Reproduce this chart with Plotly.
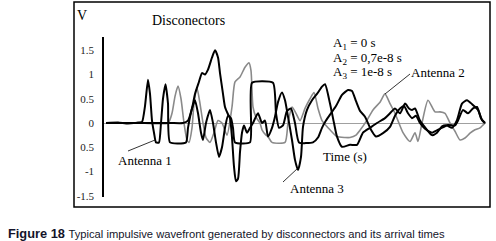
import plotly.graph_objects as go

# ---- data (time in ns, voltage in V) ----
t_ant1 = [0.0, 1.2, 2.2, 3.2, 3.6, 3.9, 4.2, 4.4, 4.6, 4.8,
          5.0, 5.3, 5.5, 5.7, 5.95, 6.2, 6.4, 8.0, 8.2, 8.6,
          8.9, 9.2, 9.5, 9.7, 10.0, 10.4, 10.7, 11.0, 11.3, 11.6,
          11.9, 12.2, 12.5, 12.7, 12.9, 14.4, 14.6, 16.7, 17.0, 17.3,
          17.7, 18.1, 18.5, 18.9, 19.3, 20.7, 21.2, 21.6, 22.0, 22.5,
          23.0, 23.6, 24.2, 24.6, 25.0, 25.4, 25.9, 26.5, 27.0, 27.7,
          28.4, 28.9, 29.4, 29.8, 30.2, 30.6, 31.0, 31.4, 31.9, 32.6,
          33.4, 34.2, 34.9, 35.2, 35.7, 36.2, 36.7, 37.1, 37.5, 37.9]
v_ant1 = [0.0, 0.01, -0.01, 0.01, 0.02, 0.35, 0.89, 0.6, 0.05, -0.2,
          -0.4, -0.4, 0.0, 0.5, 0.8, 0.4, -0.4, -0.4, -0.1, 0.3,
          0.47, 0.2, -0.2, -0.35, 0.0, 0.27, 0.0, -0.4, -0.7, -0.5,
          -0.1, 0.15, 0.1, -0.1, -0.4, -0.4, 0.83, 0.83, 0.2, -0.1,
          -0.05, 0.25, 0.3, 0.0, -0.4, -0.4, -0.3, -0.1, 0.05, 0.2,
          0.35, 0.58, 0.68, 0.66, 0.45, 0.25, 0.13, -0.14, -0.28, -0.21,
          -0.08, 0.15, 0.3, 0.35, 0.2, 0.1, 0.15, 0.0, -0.12, -0.2,
          -0.12, -0.04, -0.05, 0.05, 0.27, 0.2, 0.3, 0.33, 0.1, 0.0]

t_ant2 = [0.0, 3.4, 6.2, 6.6, 6.9, 7.2, 7.5, 7.8, 8.1, 8.3,
          8.6, 8.8, 9.1, 9.4, 9.7, 10.0, 10.4, 10.8, 11.2, 11.6,
          12.1, 12.6, 12.9, 13.4, 13.9, 14.3, 14.5, 14.7, 15.0, 15.4,
          15.6, 16.0, 16.2, 16.6, 17.9, 18.2, 18.6, 19.0, 19.4, 19.9,
          20.4, 20.8, 21.2, 21.6, 22.0, 22.4, 23.1, 23.9, 24.4, 25.0,
          25.4, 26.1, 26.7, 27.4, 27.9, 28.4, 28.9, 29.7, 30.4, 30.9,
          31.2, 31.6, 32.2, 32.9, 33.4, 33.9, 34.4, 34.9, 35.4, 35.9,
          36.4, 36.9, 37.4, 37.9]
v_ant2 = [0.0, 0.0, 0.0, 0.2, 0.55, 0.76, 0.5, 0.0, -0.35, -0.4,
          -0.1, 0.4, 0.72, 0.4, 0.0, -0.3, -0.4, -0.2, 0.05, 0.0,
          -0.25, 0.33, 0.85, 0.95, 1.15, 1.24, 1.08, 0.33, 0.12, 0.0,
          -0.14, -0.25, -0.28, -0.4, -0.4, 0.0, 0.33, 0.2, 0.05, 0.3,
          0.5, 0.63, 0.3, 0.05, -0.05, -0.14, -0.28, -0.3, -0.3, -0.25,
          -0.15, 0.06, 0.27, 0.43, 0.6, 0.4, 0.2, -0.2, -0.38, -0.2,
          -0.38, 0.0, 0.47, 0.23, 0.23, 0.2, 0.0, -0.17, -0.35, -0.31,
          -0.21, -0.14, -0.1, 0.0]

t_ant3 = [0.0, 3.4, 6.4, 7.7, 8.2, 8.6, 8.9, 9.3, 9.6, 9.9,
          10.2, 10.6, 10.9, 11.2, 11.4, 11.7, 11.9, 12.2, 12.4, 12.6,
          12.8, 13.0, 13.2, 13.4, 13.6, 13.8, 14.1, 14.4, 14.7, 15.2,
          15.6, 15.9, 16.2, 16.6, 16.9, 17.2, 17.6, 17.9, 18.2, 18.6,
          18.9, 19.2, 19.5, 19.7, 20.1, 20.6, 21.1, 21.6, 21.9, 22.4,
          22.8, 23.1, 23.6, 24.4, 25.1, 25.7, 26.4, 27.1, 27.9, 28.4,
          28.9, 29.4, 29.9, 30.3, 30.6, 30.9, 31.4, 32.1, 32.6, 33.1,
          33.6, 34.1, 34.6, 35.1, 35.6, 36.1, 36.6, 37.2, 37.6, 37.9]
v_ant3 = [0.0, 0.0, 0.0, 0.0, 0.05, 0.3, 0.6, 0.85, 1.03, 1.0,
          1.1, 1.35, 1.5, 1.35, 1.03, 0.6, 0.33, 0.18, 0.1, -0.3,
          -0.9, -1.2, -1.15, -0.6, -0.2, -0.05, -0.2, -0.1, 0.0, 0.2,
          0.0, 0.05, -0.28, -0.1, 0.13, 0.43, 0.63, 0.47, 0.13, -0.35,
          -0.76, -0.97, -0.7, -0.08, 0.27, 0.47, 0.6, 0.75, 0.8, 0.4,
          0.0, -0.28, -0.49, -0.45, -0.45, -0.2, -0.1, 0.0, 0.1, 0.2,
          0.3, 0.2, 0.4, 0.3, 0.27, 0.3, 0.05, -0.14, -0.25, -0.2,
          -0.07, -0.05, -0.1, 0.06, 0.4, 0.47, 0.39, 0.27, 0.06, 0.0]

y_tickvals = [-1.5, -1, -0.5, 0, 0.5, 1, 1.5]
y_ticktext = ["-1.5", "-1", "0.5", "0", "0.5", "1", "1.5"]

# ---- layout geometry (pixels of a 496x241 canvas) ----
W, H = 496, 241
ML, MR, MT, MB = 104, 10, 37, 44
PW, PH = W - ML - MR, H - MT - MB


def px(x):
    return (x - ML) / PW


def py(y):
    return (H - MB - y) / PH


SERIF = "Liberation Serif, Times New Roman, serif"

fig = go.Figure()
fig.add_trace(go.Scatter(x=t_ant2, y=v_ant2, mode="lines", name="Antenna 2",
                         line=dict(color="#8a8a8a", width=1.6, shape="spline", smoothing=0.6)))
fig.add_trace(go.Scatter(x=t_ant1, y=v_ant1, mode="lines", name="Antenna 1",
                         line=dict(color="#000000", width=2.0, shape="spline", smoothing=0.5)))
fig.add_trace(go.Scatter(x=t_ant3, y=v_ant3, mode="lines", name="Antenna 3",
                         line=dict(color="#000000", width=2.0, shape="spline", smoothing=0.6)))

ann = []


def txt(s, x, y, xa="left", size=13, font=SERIF, color="#000"):
    ann.append(dict(text=s, x=px(x), y=py(y), xref="paper", yref="paper",
                    xanchor=xa, yanchor="middle", showarrow=False,
                    font=dict(family=font, size=size, color=color)))


txt("V", 82, 15, xa="center", size=14)
txt("Disconectors", 188, 20, xa="center", size=14)
txt("A<sub>1</sub> = 0 s", 331, 43)
txt("A<sub>2</sub> = 0,7e-8 s", 331, 58)
txt("A<sub>3</sub> = 1e-8 s", 331, 72)
txt("Antenna 2", 409, 72)
txt("Antenna 1", 116, 160)
txt("Antenna 3", 288, 188)
txt("Time (s)", 321, 156)
ann.append(dict(text="<b>Figure 18</b> <span style='font-family:Liberation Sans Narrow, Arial Narrow, sans-serif;font-size:11.2px'>Typical impulsive wavefront generated by disconnectors and its arrival times</span>",
                x=px(6), y=py(233), xref="paper", yref="paper", xanchor="left",
                yanchor="middle", showarrow=False,
                font=dict(family="Liberation Sans, Arial, sans-serif", size=12.8, color="#14142a")))

shapes = [
    dict(type="rect", xref="paper", yref="paper", x0=px(74), x1=px(490), y0=py(207), y1=py(2),
         line=dict(color="black", width=1.5)),
    dict(type="line", xref="paper", yref="paper", x0=px(128), y0=py(151), x1=px(155), y1=py(140),
         line=dict(color="black", width=0.8)),
    dict(type="line", xref="paper", yref="paper", x0=px(410), y0=py(74), x1=px(385), y1=py(94),
         line=dict(color="black", width=0.8)),
    dict(type="line", xref="paper", yref="paper", x0=px(283), y0=py(182), x1=px(298), y1=py(168),
         line=dict(color="black", width=0.8)),
]

fig.update_layout(
    width=W, height=H, margin=dict(l=ML, r=MR, t=MT, b=MB),
    paper_bgcolor="white", plot_bgcolor="white", showlegend=False,
    annotations=ann, shapes=shapes,
    xaxis=dict(range=[-0.2, 38.0], visible=False, fixedrange=True),
    yaxis=dict(range=[(123 - 197) / 48.5, (123 - 37) / 48.5], tickvals=y_tickvals,
               ticktext=y_ticktext, showgrid=False, zeroline=True, zerolinecolor="#a0a0a0",
               zerolinewidth=1, showline=True, linecolor="black", linewidth=1.5,
               ticks="", ticklabelstandoff=6,
               tickfont=dict(family=SERIF, size=11, color="#222")),
)

fig.write_html("out.html", config={"displayModeBar": False},
               post_script="document.body.style.margin='0';document.body.style.padding='0';document.body.style.overflow='hidden';")
